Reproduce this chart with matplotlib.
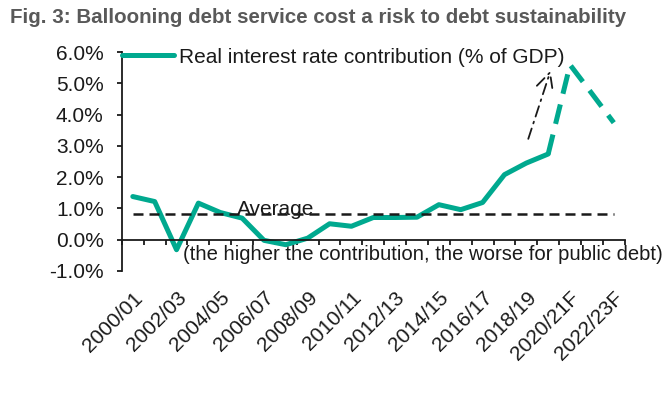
import numpy as np
import matplotlib
matplotlib.use("Agg")
import matplotlib.pyplot as plt
from matplotlib.ticker import FixedLocator, FuncFormatter

plt.rcParams['font.family'] = ['Liberation Sans', 'DejaVu Sans']

# data
years = ['2000/01', '2001/02', '2002/03', '2003/04', '2004/05', '2005/06',
         '2006/07', '2007/08', '2008/09', '2009/10', '2010/11', '2011/12',
         '2012/13', '2013/14', '2014/15', '2015/16', '2016/17', '2017/18',
         '2018/19', '2019/20', '2020/21F', '2021/22F', '2022/23F']
real_rate = [1.38, 1.22, -0.32, 1.17, 0.87, 0.69, -0.02, -0.16, 0.05, 0.51,
             0.43, 0.71, 0.71, 0.72, 1.12, 0.96, 1.19, 2.08, 2.45, 2.74,
             5.59, 4.67, 3.74]
n_actual = 20          # 2000/01 .. 2019/20 drawn solid, rest is forecast
average = 0.83
arrow_from = (18.05, 3.14)
arrow_to = (19.15, 5.49)

teal = '#00a98f'
ink = '#1a1a1a'
x = np.arange(len(years))

fig = plt.figure(figsize=(6.66, 4.0), dpi=100)
ax = fig.add_axes([0.183, 0.3225, 0.755, 0.5475])

ax.plot(x[:n_actual], real_rate[:n_actual], color=teal, lw=3.6,
        solid_capstyle='round', solid_joinstyle='round',
        label='Real interest rate contribution (% of GDP)')
ax.plot(x[n_actual - 1:], real_rate[n_actual - 1:], color=teal, lw=3.6,
        dashes=(4, 2.2))
ax.plot([x[0], x[-1]], [average, average], color=ink, lw=1.8, dashes=(4, 2.4))
ax.text(4.76, 0.8, 'Average', fontsize=15, color=ink, ha='left', va='baseline')

ax.annotate('', xy=arrow_to, xytext=arrow_from,
            arrowprops=dict(arrowstyle='->', color=ink, lw=1.3,
                            linestyle=(0, (6, 3, 1, 3)), mutation_scale=30))

ax.text(2.29, -0.64, '(the higher the contribution, the worse for public debt)',
        fontsize=14.6, color=ink, ha='left', va='baseline', clip_on=False)

ax.set_xlim(-0.5, len(years) - 0.5)
ax.set_ylim(-1, 6)
ax.set_yticks(np.arange(-1, 7, 1))
ax.yaxis.set_major_formatter(FuncFormatter(lambda v, p: f'{v:.1f}%'))

ax.xaxis.set_major_locator(FixedLocator(x[::2]))
ax.set_xticklabels(years[::2])
ax.xaxis.set_minor_locator(FixedLocator(np.arange(-0.5, len(years), 1)))

for s in ['top', 'right']:
    ax.spines[s].set_visible(False)
ax.spines['bottom'].set_position(('data', 0))
for s in ['left', 'bottom']:
    ax.spines[s].set_linewidth(1.3)
    ax.spines[s].set_color(ink)

ax.tick_params(axis='y', length=3.6, width=1.3, pad=9.5, labelsize=15,
               colors=ink)
ax.tick_params(axis='x', which='major', length=0, pad=35, labelsize=15,
               colors=ink)
ax.tick_params(axis='x', which='minor', length=3.6, width=1.3, colors=ink)
for lab in ax.get_xticklabels():
    lab.set_rotation(45)
    lab.set_ha('right')
    lab.set_va('top')
    lab.set_rotation_mode('anchor')

ax.legend(loc='center left', bbox_to_anchor=(0, 0.977), frameon=False,
          fontsize=15, handlelength=2.5, handletextpad=0.25, borderpad=0,
          borderaxespad=0, labelcolor=ink)

fig.text(0.015, 0.957, 'Fig. 3: Ballooning debt service cost a risk to debt sustainability',
         fontsize=14.8, fontweight='bold', color='#595959', ha='left', va='center')

fig.savefig('out.png', dpi=100)
